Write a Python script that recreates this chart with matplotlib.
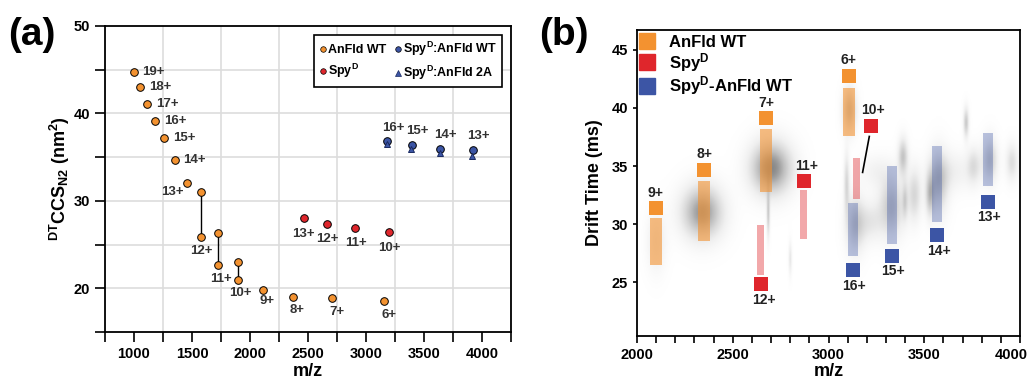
import numpy as np
import matplotlib
matplotlib.use("Agg")
import matplotlib.pyplot as plt
import matplotlib.transforms as mtransforms
from matplotlib.lines import Line2D

plt.rcParams["font.family"] = ["Liberation Sans", "DejaVu Sans"]
plt.rcParams["font.weight"] = "bold"
plt.rcParams["axes.labelweight"] = "bold"
plt.rcParams["mathtext.fontset"] = "custom"
plt.rcParams["mathtext.rm"] = "Liberation Sans:bold"
plt.rcParams["mathtext.bf"] = "Liberation Sans:bold"
plt.rcParams["mathtext.it"] = "Liberation Sans:bold"

ORANGE = "#F39230"
RED = "#DF262C"
BLUE = "#3C55A5"

# ====== (a) CCS vs m/z ======
anfld_charge = ["19+", "18+", "17+", "16+", "15+", "14+", "13+", "12+", "11+", "10+", "9+", "8+", "7+", "6+"]
anfld_mz = [1000, 1055, 1115, 1184, 1262, 1354, 1461, 1579, 1723, 1895, 2108, 2370, 2710, 3159]
anfld_ccs = [44.7, 43.0, 41.1, 39.1, 37.2, 34.7, 32.0, 25.9, 22.7, 21.0, 19.85, 19.0, 18.85, 18.5]
# second (extended) conformer for 12+, 11+, 10+
anfld2_mz = [1579, 1723, 1895]
anfld2_ccs = [31.0, 26.3, 23.0]

spy_charge = ["13+", "12+", "11+", "10+"]
spy_mz = [2462, 2667, 2909, 3200]
spy_ccs = [28.0, 27.35, 26.9, 26.4]

cplx_charge = ["16+", "15+", "14+", "13+"]
cplx_wt_mz = [3185, 3398, 3640, 3919]
cplx_wt_ccs = [36.8, 36.4, 35.95, 35.8]
cplx_2a_mz = [3179, 3392, 3634, 3913]
cplx_2a_ccs = [36.5, 35.9, 35.5, 35.15]

# label offsets (points) for the AnFld WT charge states
anfld_lab_off = [(6, 0), (6, 0), (6, 0), (6, 0), (6, 0), (6, 0), (-3, -6),
                 (0, -10), (2, -10), (2, -10), (3, -8), (3, -9), (3, -10), (3, -10)]
anfld_lab_ha = ["left"] * 6 + ["right"] + ["center"] * 7

# ====== (b) drift time vs m/z ======
b_anfld_charge = ["9+", "8+", "7+", "6+"]
b_anfld_mz = [2098, 2350, 2674, 3106]
b_anfld_lo = [26.46, 28.53, 32.74, 37.55]
b_anfld_hi = [30.53, 33.74, 38.2, 41.7]
b_anfld_mark = [31.4, 34.7, 39.15, 42.77]

b_spy_charge = ["12+", "11+", "10+"]
b_spy_mz = [2646, 2870, 3148]
b_spy_lo = [25.66, 28.73, 32.2]
b_spy_hi = [29.96, 32.97, 35.7]
b_spy_mark_mz = [2646, 2870, 3220]
b_spy_mark = [24.9, 33.74, 38.47]

b_cplx_charge = ["16+", "15+", "14+", "13+"]
b_cplx_mz = [3127, 3332, 3568, 3831]
b_cplx_lo = [27.3, 28.33, 30.16, 33.25]
b_cplx_hi = [31.85, 35.03, 36.75, 37.87]
b_cplx_mark = [26.03, 27.3, 29.04, 31.93]

# grey signal spots: m/z, drift time, widths, intensity
spot_mz = [2340, 2700, 2100, 3110, 3140, 3095, 3220, 3330, 3390, 3450, 3530, 3575,
           3720, 3845, 3960, 3760, 2685, 2800, 3400, 3650, 3250]
spot_dt = [31.0, 34.8, 28.5, 39.8, 30.0, 33.5, 30.2, 31.5, 35.8, 32.5, 32.5, 33.5,
           38.7, 35.5, 35.3, 35.0, 30.8, 27.0, 32.0, 34.5, 34.5]
spot_wmz = [75, 75, 35, 25, 35, 10, 45, 45, 18, 25, 16, 35, 10, 28, 22, 25, 6, 6, 10, 80, 60]
spot_wdt = [1.6, 1.6, 1.8, 1.3, 1.7, 1.8, 1.2, 1.8, 1.1, 1.6, 1.3, 1.9, 0.9, 1.3, 1.1, 1.1, 1.4, 1.0, 1.1, 1.2, 1.0]
spot_amp = [0.5, 0.55, 0.15, 0.35, 0.3, 0.25, 0.16, 0.33, 0.33, 0.25, 0.28, 0.33, 0.32, 0.3, 0.22, 0.2, 0.3, 0.18, 0.2, 0.12, 0.1]

fig = plt.figure(figsize=(10.33, 3.84), dpi=100)

# ---------------- panel (a) ----------------
ax = fig.add_axes([0.1016, 0.1354, 0.3931, 0.7969])
ax.set_xlim(750, 4250)
ax.set_ylim(15, 50)
ax.set_xticks(np.arange(750, 4251, 250))
ax.set_xticklabels([str(v) if v % 500 == 0 else "" for v in range(750, 4251, 250)])
ax.set_yticks([20, 30, 40, 50])
ax.set_yticks([15, 25, 35, 45], minor=True)
for v in range(750, 4251, 500):
    ax.axvline(v, color="#dddddd", lw=1.2, zorder=0)
for v in range(20, 50, 5):
    ax.axhline(v, color="#dddddd", lw=1.2, zorder=0)
ax.tick_params(axis="both", which="both", direction="out", length=7, width=1.2, labelsize=10.5)
for t in ax.get_xticklabels() + ax.get_yticklabels():
    t.set_fontweight("bold")
for s in ax.spines.values():
    s.set_linewidth(1.3)

for x1, y1, y2 in zip(anfld2_mz, anfld_ccs[7:10], anfld2_ccs):
    ax.plot([x1, x1], [y1, y2], color="black", lw=1.0, zorder=2)

mk = dict(ms=5.5, mec="black", mew=0.7, ls="none", zorder=3)
ax.plot(anfld_mz, anfld_ccs, "o", mfc=ORANGE, **mk)
ax.plot(anfld2_mz, anfld2_ccs, "o", mfc=ORANGE, **mk)
ax.plot(spy_mz, spy_ccs, "o", mfc=RED, **mk)
ax.plot(cplx_wt_mz, cplx_wt_ccs, "o", mfc=BLUE, **mk)
ax.plot(cplx_2a_mz, cplx_2a_ccs, "^", mfc=BLUE, ms=5, mec="#1a2a60", mew=0.7, ls="none", zorder=4)

lab = dict(textcoords="offset points", fontsize=9.5, color="#333333", va="center")
for c, x, y, off, ha in zip(anfld_charge, anfld_mz, anfld_ccs, anfld_lab_off, anfld_lab_ha):
    ax.annotate(c, (x, y), xytext=off, ha=ha, **lab)
for c, x, y in zip(spy_charge, spy_mz, spy_ccs):
    ax.annotate(c, (x, y), xytext=(0, -11), ha="center", **lab)
for c, x, y in zip(cplx_charge, cplx_wt_mz, cplx_wt_ccs):
    ax.annotate(c, (x, y), xytext=(4, 10), ha="center", **lab)

ax.set_xlabel("m/z", fontsize=13, labelpad=2)
ax.set_ylabel(r"$^{\mathrm{DT}}$CCS$_{\mathrm{N2}}$ (nm$^{\mathrm{2}}$)", fontsize=13, labelpad=1)

handles = [
    Line2D([], [], marker="o", ls="none", mfc=ORANGE, mec="black", mew=0.5, ms=4),
    Line2D([], [], marker="o", ls="none", mfc=RED, mec="black", mew=0.5, ms=4),
    Line2D([], [], marker="o", ls="none", mfc=BLUE, mec="black", mew=0.5, ms=4),
    Line2D([], [], marker="^", ls="none", mfc=BLUE, mec="#1a2a60", mew=0.5, ms=4),
]
labels = ["AnFld WT", r"Spy$^{\mathrm{D}}$", r"Spy$^{\mathrm{D}}$:AnFld WT", r"Spy$^{\mathrm{D}}$:AnFld 2A"]
leg = ax.legend(handles, labels, ncol=2, loc="upper right", fontsize=9, frameon=True,
                fancybox=False, edgecolor="black", handletextpad=0.05, handlelength=0.7,
                columnspacing=0.6, borderpad=0.4, labelspacing=0.5,
                bbox_to_anchor=(0.994, 0.992))
leg.get_frame().set_linewidth(1.2)
leg.get_frame().set_alpha(1)

fig.text(0.008, 0.955, "(a)", fontsize=28, fontweight="bold", va="top")

# ---------------- panel (b) ----------------
bx = fig.add_axes([0.6167, 0.125, 0.3707, 0.7969])
bx.set_xlim(2000, 4000)
bx.set_ylim(20.4, 46.7)

gx = np.linspace(2000, 4000, 600)
gy = np.linspace(20.4, 46.7, 300)
GX, GY = np.meshgrid(gx, gy)
img = np.zeros_like(GX)
for m, d, wm, wd, a in zip(spot_mz, spot_dt, spot_wmz, spot_wdt, spot_amp):
    img += a * np.exp(-0.5 * ((GX - m) / wm) ** 2 - 0.5 * ((GY - d) / wd) ** 2)
bx.imshow(img, extent=[2000, 4000, 20.4, 46.7], origin="lower", aspect="auto",
          cmap="Greys", vmin=0, vmax=1.0, zorder=0, interpolation="bilinear")

bx.bar(b_anfld_mz, np.subtract(b_anfld_hi, b_anfld_lo), bottom=b_anfld_lo, width=60,
       color=ORANGE, alpha=0.6, zorder=2)
bx.bar(b_spy_mz, np.subtract(b_spy_hi, b_spy_lo), bottom=b_spy_lo, width=38,
       color=RED, alpha=0.4, zorder=2)
bx.bar(b_cplx_mz, np.subtract(b_cplx_hi, b_cplx_lo), bottom=b_cplx_lo, width=52,
       color=BLUE, alpha=0.35, zorder=2)

sq = dict(marker="s", ms=9.5, ls="none", mew=0, zorder=3)
bx.plot(b_anfld_mz, b_anfld_mark, color=ORANGE, **sq)
bx.plot(b_spy_mark_mz, b_spy_mark, color=RED, **sq)
bx.plot(b_cplx_mz, b_cplx_mark, color=BLUE, **sq)

bx.plot([3213, 3178], [37.55, 34.46], color="black", lw=1.2, zorder=3)

blab = dict(textcoords="offset points", fontsize=10, color="#222222", ha="center", va="center")
for c, x, y in zip(b_anfld_charge, b_anfld_mz, b_anfld_mark):
    bx.annotate(c, (x, y), xytext=(0, 11), **blab)
for c, x, y in zip(b_spy_charge, b_spy_mark_mz, b_spy_mark):
    dy = -12 if c == "12+" else 11
    bx.annotate(c, (x, y), xytext=(2, dy), **blab)
for c, x, y in zip(b_cplx_charge, b_cplx_mz, b_cplx_mark):
    bx.annotate(c, (x, y), xytext=(1, -11), **blab)

bx.set_xticks(np.arange(2000, 4001, 100))
bx.set_xticklabels([str(v) if v % 500 == 0 else "" for v in range(2000, 4001, 100)])
bx.set_yticks([25, 30, 35, 40, 45])
bx.tick_params(axis="x", direction="out", length=5, width=1.2, labelsize=10.5)
bx.tick_params(axis="y", direction="out", length=3, width=1.2, labelsize=10.5)
for t in bx.get_xticklabels() + bx.get_yticklabels():
    t.set_fontweight("bold")
# nudge the last tick label so it stays inside the figure
last = bx.get_xticklabels()[-1]
last.set_transform(last.get_transform() + mtransforms.ScaledTranslation(-9 / 100, 0, fig.dpi_scale_trans))
for s in bx.spines.values():
    s.set_linewidth(1.3)
bx.set_xlabel("m/z", fontsize=13, labelpad=1)
bx.set_ylabel("Drift Time (ms)", fontsize=13, labelpad=6)

bh = [Line2D([], [], marker="s", ls="none", color=c, ms=11) for c in (ORANGE, RED, BLUE)]
bl = ["AnFld WT", r"Spy$^{\mathrm{D}}$", r"Spy$^{\mathrm{D}}$-AnFld WT"]
bx.legend(bh, bl, loc="upper left", frameon=False, fontsize=12, handlelength=0.6,
          handletextpad=1.0, labelspacing=0.05, borderaxespad=0.1, borderpad=0.2)

fig.text(0.522, 0.955, "(b)", fontsize=28, fontweight="bold", va="top")

fig.savefig("out.png", dpi=100)
